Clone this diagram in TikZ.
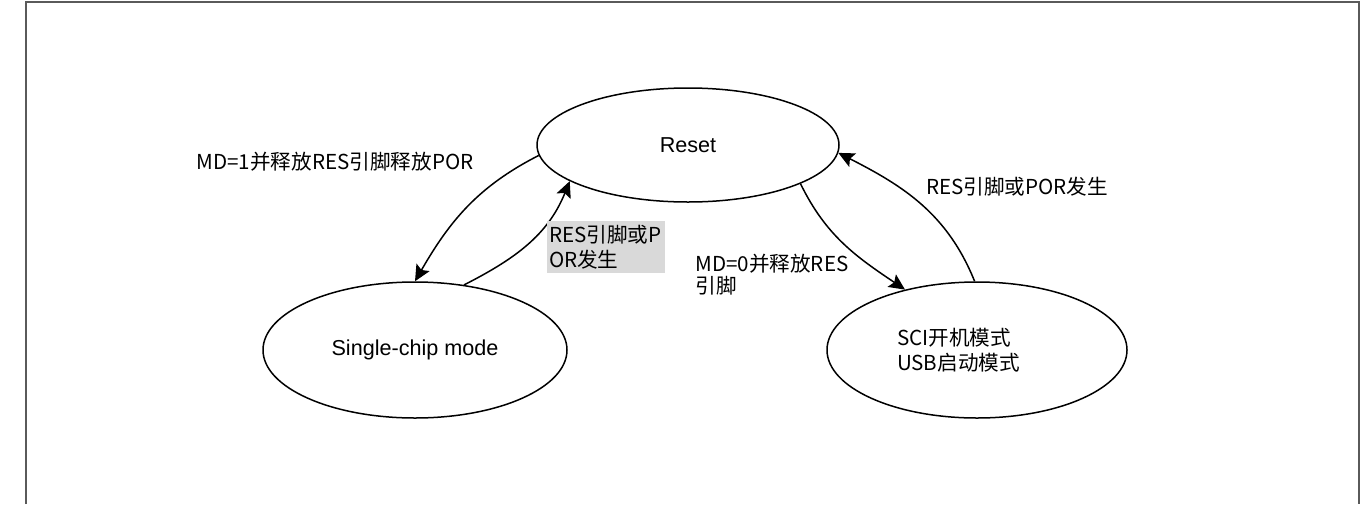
\documentclass[tikz,border=0pt]{standalone}
\usepackage{fontspec}
\setmainfont{Liberation Sans}
\newfontfamily\cjk{Noto Sans CJK SC}
\usepackage{tikz}
\usetikzlibrary{shapes.geometric,arrows.meta}
\definecolor{framegray}{RGB}{90,90,90}
\definecolor{notegray}{RGB}{217,217,217}

\begin{document}
\begin{tikzpicture}[x=0.5pt,y=0.5pt,
    state/.style={draw, ellipse, line width=0.75pt, inner sep=0pt,
        font=\fontsize{10.8}{13}\selectfont},
    trans/.style={->, >={Stealth[length=8pt,width=7.5pt,inset=1.5pt]}, line width=0.75pt},
    note/.style={font=\cjk\fontsize{10.3}{11}\selectfont, align=left, inner sep=0pt}]

    \useasboundingbox (0,0) rectangle (1370,-504);

    % Frame
    \draw[framegray, line width=1pt] (26,-504) -- (26,-1.5) -- (1359,-1.5) -- (1359,-504);

    % States
    \node[state, minimum width=151pt, minimum height=57pt] (reset) at (688,-145) {Reset};
    \node[state, minimum width=152pt, minimum height=68pt] (single) at (415,-350) {Single-chip mode};
    \node[state, minimum width=150pt, minimum height=68pt, text width=80pt, align=left,
        font=\cjk\fontsize{10.3}{12.5}\selectfont] (sci) at (977,-350) {SCI开机模式\\USB启动模式};

    % Transitions
    \draw[trans] (reset.184) to[out=207, in=60] (single.90);
    \draw[trans] (single.53) to[out=27, in=248] (reset.197);
    \draw[trans] (reset.341) to[out=-64, in=146] (sci.140);
    \draw[trans] (sci.92) to[out=112, in=-27] (reset.-3);

    % Labels
    \node[note] (mdone) at (335,-162) {MD=1并释放RES引脚释放POR};
    \node[note, fill=notegray, inner xsep=1pt, minimum width=59pt, minimum height=26pt,
        text width=57pt, font=\cjk\fontsize{10.3}{12.5}\selectfont] (resleft) at (606,-247) {RES引脚或P\\OR发生};
    \node[note, anchor=north west] (mdzero) at (695,-254) {MD=0并释放RES\\引脚};
    \node[note] (resright) at (1017,-187) {RES引脚或POR发生};
\end{tikzpicture}
\end{document}
